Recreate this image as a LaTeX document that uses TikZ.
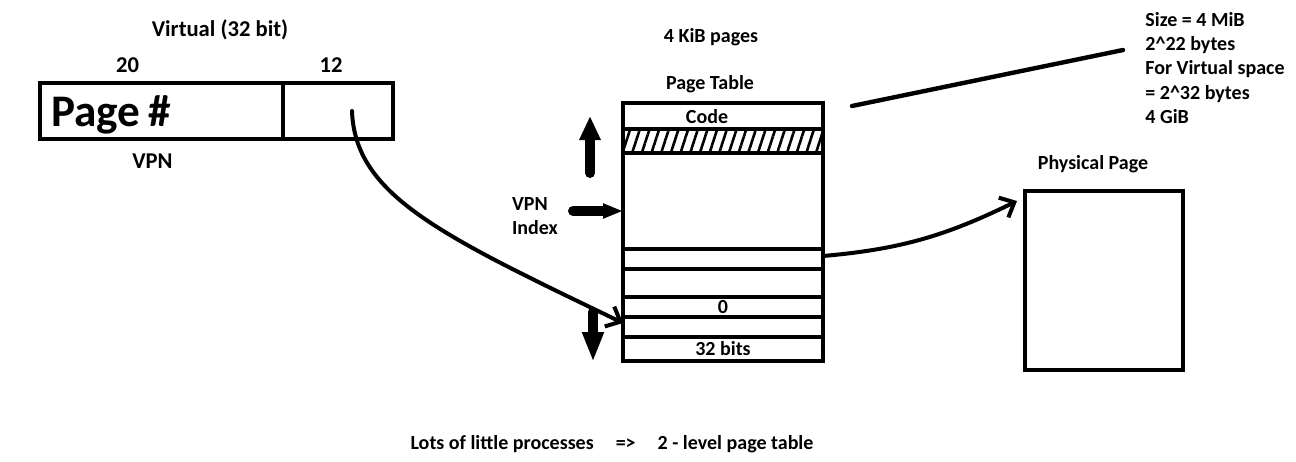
\documentclass[tikz,border=0pt]{standalone}
\usepackage{fontspec}
\setmainfont{Carlito}
\usetikzlibrary{arrows.meta,positioning,patterns.meta}

\begin{document}
\begin{tikzpicture}[
  x=0.5pt, y=-0.5pt,
  txt/.style={font=\bfseries\fontsize{10}{12.1}\selectfont, inner sep=0pt, anchor=base},
  bigtxt/.style={txt, font=\bfseries\fontsize{11.3}{13}\selectfont},
  field/.style={draw, line width=2pt, outer sep=0pt, inner sep=0pt, minimum height=28pt},
  row/.style={draw, line width=2pt, outer sep=0pt, inner sep=0pt, minimum width=100pt, font=\bfseries\fontsize{10}{12}\selectfont},
  arr/.style={-{Straight Barb[length=6pt,width=11pt]}, line width=2pt, line cap=round},
  block/.style={line width=5pt, line cap=round},
  node distance=0pt
]
\useasboundingbox (0,0) rectangle (1296,461);

\node[bigtxt] (virt) at (220,36) {Virtual (32 bit)};
\node[bigtxt] (bits20) at (127.5,72.5) {20};
\node[bigtxt] (bits12) at (331,72.5) {12};
\node[field, minimum width=121.5pt, inner xsep=5.5pt, text width=110.5pt, align=left,
  text depth=0pt, font=\bfseries\fontsize{22.6}{25}\selectfont] (pagenum) at (161.5,111) {Page\hspace{4pt}\#};
\node[field, minimum width=55pt, right=of pagenum] (offset) {};
\node[bigtxt] (vpn) at (152.5,168) {VPN};

\node[txt] (kib) at (711,42) {4 KiB pages};
\node[txt] (ptname) at (710,89) {Page Table};
\node[row, minimum height=13pt, label={[txt, anchor=center, xshift=-8pt, yshift=-0.5pt]center:Code}] (rcode) at (723,116) {};
\node[row, minimum height=12pt, below=of rcode,
  pattern={Lines[angle=72, distance=4.6pt, line width=1.3pt]}] (rhatch) {};
\node[row, minimum height=48pt, below=of rhatch] (rgap) {};
\node[row, minimum height=10pt, below=of rgap] (rmap) {};
\node[row, minimum height=14pt, below=of rmap] (rnext) {};
\node[row, minimum height=10pt, below=of rnext] (rzero) {0};
\node[row, minimum height=10pt, below=of rzero] (rhit) {};
\node[row, minimum height=12pt, below=of rhit] (rlast) {32 bits};

\node[txt, anchor=base west] (vpnidx) at (511.7,210.7) {VPN};
\node[txt, anchor=base west] (idx) at (511.7,234.3) {Index};
\coordinate (upfrom) at (590,173);
\coordinate (upto) at (590,116);
\coordinate (idxfrom) at (573,211);
\coordinate (downfrom) at (593,312);
\coordinate (downto) at (593,362);
\draw[block, -{Triangle[length=12pt,width=10pt]}] (upfrom) -- (upto);
\draw[block, -{Triangle[length=10pt,width=7pt]}] (idxfrom) -- (rgap.west |- idxfrom);
\draw[block, -{Triangle[length=15pt,width=10pt]}] (downfrom) -- (downto);

\node[txt, anchor=base west, align=left] (note) at (1145,123.3)
  {Size = 4 MiB\\2\^{}22 bytes\\For Virtual space\\= 2\^{}32 bytes\\4 GiB};
\coordinate (tl) at (852,106);
\coordinate (tr) at (1123,50);
\draw[line width=2.2pt, line cap=round] (tl) -- (tr);

\node[txt] (physname) at (1093,169.3) {Physical Page};
\node[field, minimum width=79pt, minimum height=89.5pt] (phys) at (1104,280.5) {};

\draw[arr] ([xshift=7pt]offset.center) .. controls (355,195) and (440,235) .. ([yshift=2pt]rhit.west);
\draw[arr] ([yshift=1.5pt]rmap.east) to[out=5, in=206] ([xshift=-4pt, yshift=-5pt]phys.north west);

\node[txt] (summary) at (612,449.3)
  {Lots of little processes\hspace{11pt}=>\hspace{11pt}2 - level page table};
\end{tikzpicture}
\end{document}
